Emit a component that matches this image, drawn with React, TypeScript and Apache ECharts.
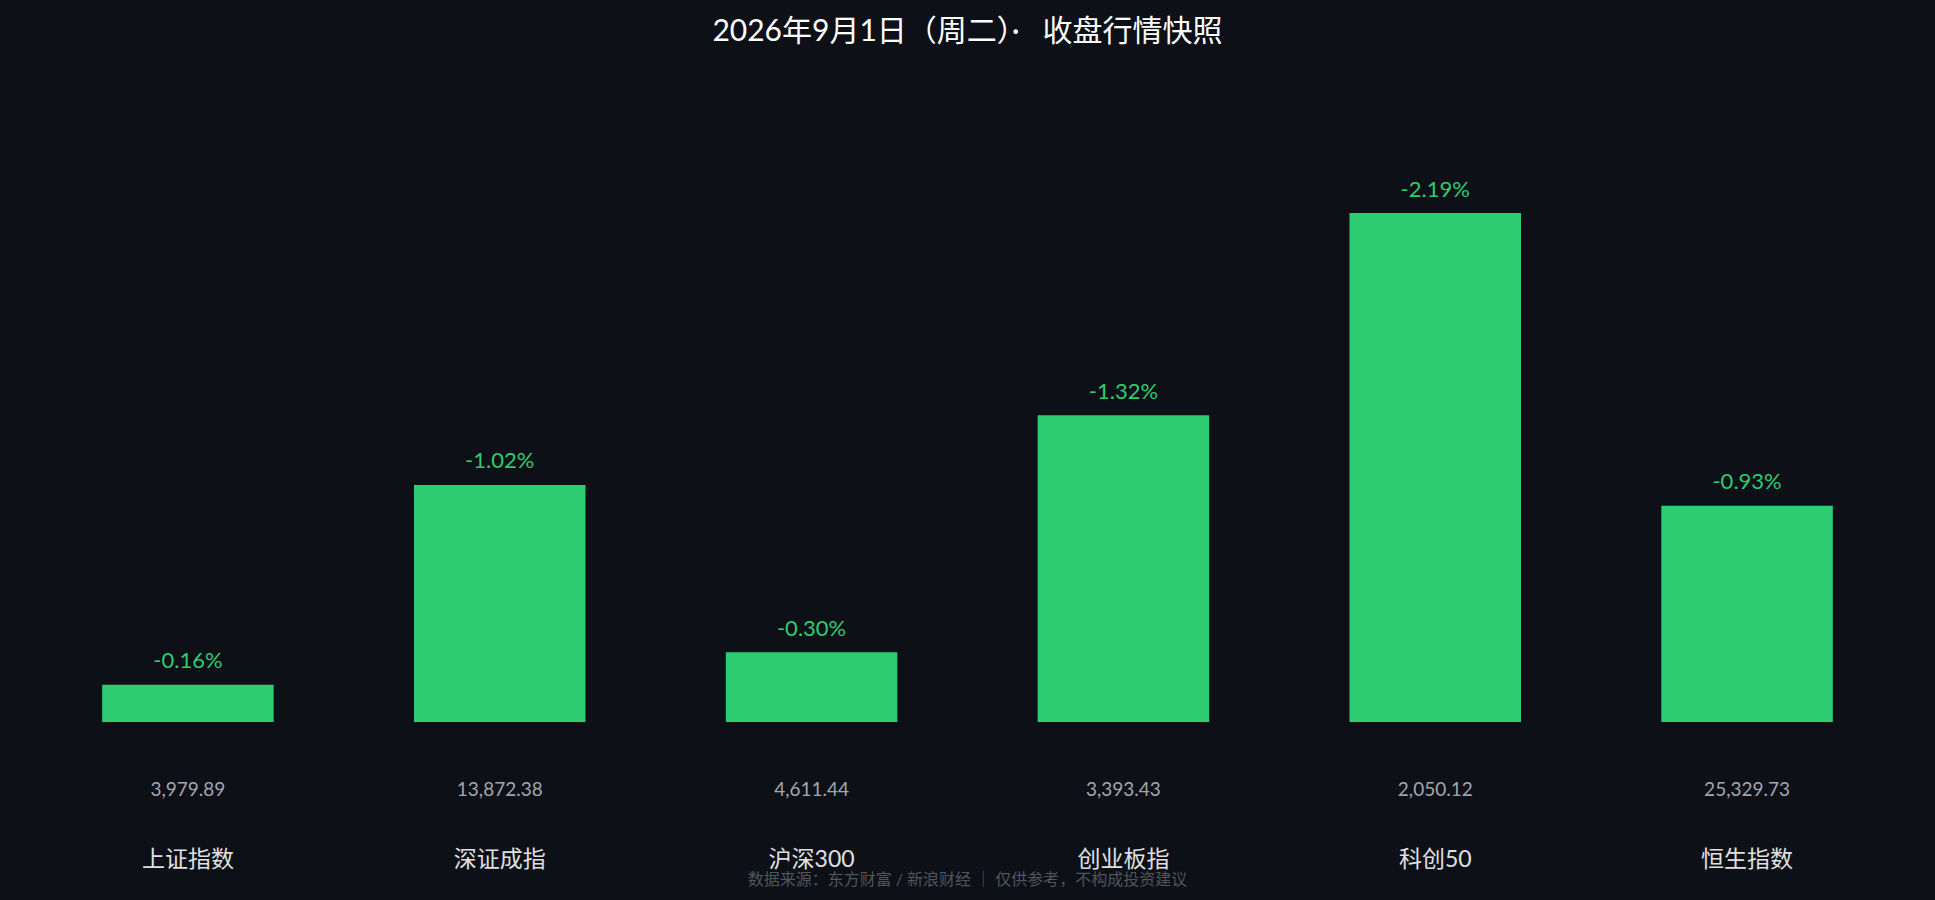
import React, { useEffect, useRef } from 'react';
import * as echarts from 'echarts';

const names = ['上证指数', '深证成指', '沪深300', '创业板指', '科创50', '恒生指数'];
const closes = ['3,979.89', '13,872.38', '4,611.44', '3,393.43', '2,050.12', '25,329.73'];
const changes = [-0.16, -1.02, -0.30, -1.32, -2.19, -0.93];

const title = '2026年9月1日（周二）·\u00a0\u00a0\u00a0收盘行情快照';
const footnote = '数据来源：东方财富 / 新浪财经 ｜ 仅供参考，不构成投资建议';

const BG = '#0d1017';
const GREEN = '#2ecc71';
const FONT = "Lato, 'Noto Sans CJK SC', sans-serif";

function App() {
  const chartRef = useRef(null);

  useEffect(() => {
    document.body.style.margin = '0';
    document.body.style.background = BG;
    if (!chartRef.current) return;
    const chart = echarts.init(chartRef.current, null, { renderer: 'svg' });

    const options = {
      animation: false,
      backgroundColor: BG,
      title: {
        text: title,
        left: 'center',
        top: 9,
        textStyle: { color: '#ffffff', fontSize: 30, fontWeight: 'normal', fontFamily: FONT },
      },
      graphic: [
        {
          type: 'text',
          left: 'center',
          top: 870,
          style: { text: footnote, fill: '#50555e', fontSize: 16, fontFamily: FONT },
        },
      ],
      grid: { left: 32, right: 32, top: 141, bottom: 178 },
      xAxis: {
        type: 'category',
        data: names,
        axisLine: { show: false },
        axisTick: { show: false },
        axisLabel: {
          margin: 32,
          formatter: (value, index) => `{v|${closes[index]}}\n{n|${value}}`,
          rich: {
            v: { color: '#a3a6ac', fontSize: 19, lineHeight: 69, fontFamily: FONT },
            n: { color: '#e0e0e0', fontSize: 23, lineHeight: 69, fontFamily: FONT },
          },
        },
      },
      yAxis: {
        type: 'value',
        min: 0,
        max: 2.5,
        show: false,
        splitLine: { show: false },
      },
      series: [
        {
          type: 'bar',
          barWidth: '55%',
          data: changes.map((c) => Math.abs(c)),
          itemStyle: { color: GREEN },
          label: {
            show: true,
            position: 'top',
            distance: 14,
            color: GREEN,
            fontSize: 22,
            fontFamily: FONT,
            formatter: (p) => `${changes[p.dataIndex].toFixed(2)}%`,
          },
        },
      ],
    };

    chart.setOption(options);

    const handleResize = () => chart.resize();
    window.addEventListener('resize', handleResize);
    return () => {
      window.removeEventListener('resize', handleResize);
      chart.dispose();
    };
  }, []);

  return <div ref={chartRef} style={{ width: '100vw', height: '100vh' }} />;
}

export default App;
